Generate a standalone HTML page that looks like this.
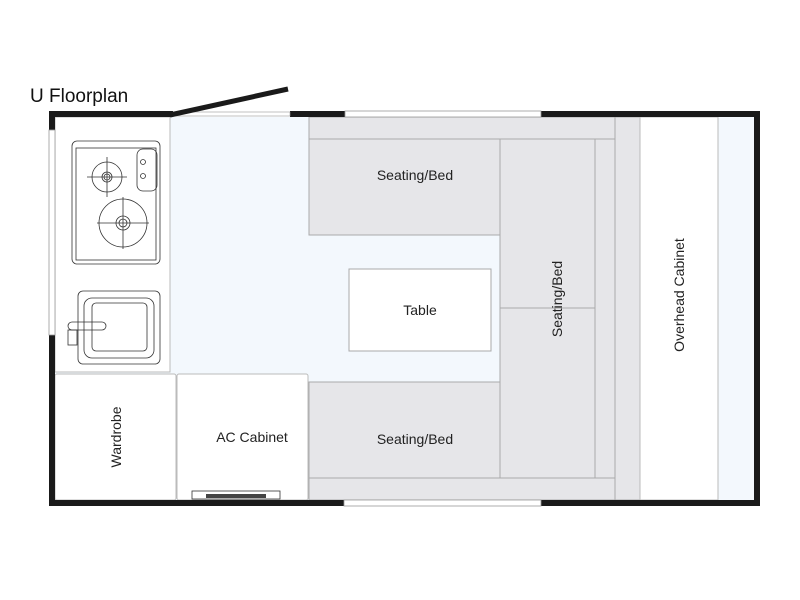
<!DOCTYPE html>
<html><head><style>body{margin:0;background:#fff}svg{display:block}</style></head><body>
<svg width="800" height="600" viewBox="0 0 800 600" xmlns="http://www.w3.org/2000/svg" font-family="Liberation Sans, sans-serif">
<rect width="800" height="600" fill="#fff"/>
<text x="30" y="102" font-size="19" fill="#111">U Floorplan</text>
<!-- floor -->
<rect x="55" y="117" width="699" height="383" fill="#f3f8fd"/>
<!-- kitchen -->
<rect x="55" y="117" width="115" height="255" fill="#fff" stroke="#bbb"/>
<g fill="none" stroke="#333" stroke-width="0.8">
<rect x="72" y="141" width="88" height="123" rx="5"/>
<rect x="76" y="148" width="80" height="112"/>
<circle cx="107" cy="177" r="15"/><circle cx="107" cy="177" r="5"/><circle cx="107" cy="177" r="3"/>
<path d="M87 177h40M107 157v40"/>
<circle cx="123" cy="223" r="24"/><circle cx="123" cy="223" r="7"/><circle cx="123" cy="223" r="4"/>
<path d="M97 223h52M123 197v52"/>
<rect x="137" y="149" width="20" height="42" rx="6"/>
<circle cx="143" cy="162" r="2.5"/><circle cx="143" cy="176" r="2.5"/>
<rect x="78" y="291" width="82" height="73" rx="5"/>
<rect x="84" y="298" width="70" height="60" rx="8"/>
<rect x="92" y="303" width="55" height="48" rx="4"/>
<rect x="68" y="322" width="38" height="8" rx="4"/>
<rect x="68" y="330" width="9" height="15"/>
</g>
<!-- wardrobe & AC -->
<rect x="55" y="374" width="121" height="126" rx="2" fill="#fff" stroke="#bbb"/>
<rect x="177" y="374" width="131" height="126" rx="2" fill="#fff" stroke="#bbb"/>
<rect x="192" y="491" width="88" height="8" fill="none" stroke="#333" stroke-width="0.8"/>
<rect x="206" y="494" width="60" height="4" fill="#444"/>
<text transform="translate(121,437) rotate(-90)" text-anchor="middle" font-size="14" fill="#222">Wardrobe</text>
<text x="252" y="442" text-anchor="middle" font-size="14" fill="#222">AC Cabinet</text>
<!-- seating -->
<g fill="#e6e6e9" stroke="#aaa" stroke-width="1">
<rect x="309" y="117" width="306" height="22"/>
<rect x="309" y="139" width="191" height="96"/>
<rect x="500" y="139" width="95" height="169"/>
<rect x="500" y="308" width="95" height="170"/>
<rect x="595" y="139" width="20" height="339"/>
<rect x="309" y="382" width="191" height="96"/>
<rect x="309" y="478" width="306" height="22"/>
<rect x="615" y="117" width="25" height="383"/>
</g>
<rect x="640" y="117" width="78" height="383" fill="#fff" stroke="#bbb"/>
<rect x="349" y="269" width="142" height="82" fill="#fff" stroke="#aaa"/>
<text x="420" y="315" text-anchor="middle" font-size="14" fill="#222">Table</text>
<text x="415" y="180" text-anchor="middle" font-size="14" fill="#222">Seating/Bed</text>
<text x="415" y="444" text-anchor="middle" font-size="14" fill="#222">Seating/Bed</text>
<text transform="translate(562,299) rotate(-90)" text-anchor="middle" font-size="14" fill="#222">Seating/Bed</text>
<text transform="translate(684,295) rotate(-90)" text-anchor="middle" font-size="14" fill="#222">Overhead Cabinet</text>
<!-- walls -->
<g fill="#1a1a1a">
<rect x="49" y="111" width="124" height="6"/>
<rect x="290" y="111" width="55" height="6"/>
<rect x="541" y="111" width="219" height="6"/>
<rect x="49" y="500" width="295" height="6"/>
<rect x="541" y="500" width="219" height="6"/>
<rect x="754" y="111" width="6" height="395"/>
<rect x="49" y="111" width="6" height="19"/>
<rect x="49" y="335" width="6" height="171"/>
</g>
<rect x="49" y="130" width="6" height="205" fill="#fff" stroke="#999" stroke-width="0.8"/>
<rect x="345" y="111" width="196" height="6" fill="#fff" stroke="#999" stroke-width="0.8"/>
<rect x="344" y="500" width="197" height="6" fill="#fff" stroke="#999" stroke-width="0.8"/>
<rect x="173" y="112" width="117" height="4" fill="#fff" stroke="#999" stroke-width="0.6"/>
<line x1="170" y1="115" x2="288" y2="89" stroke="#1a1a1a" stroke-width="5"/>
</svg>
</body></html>
